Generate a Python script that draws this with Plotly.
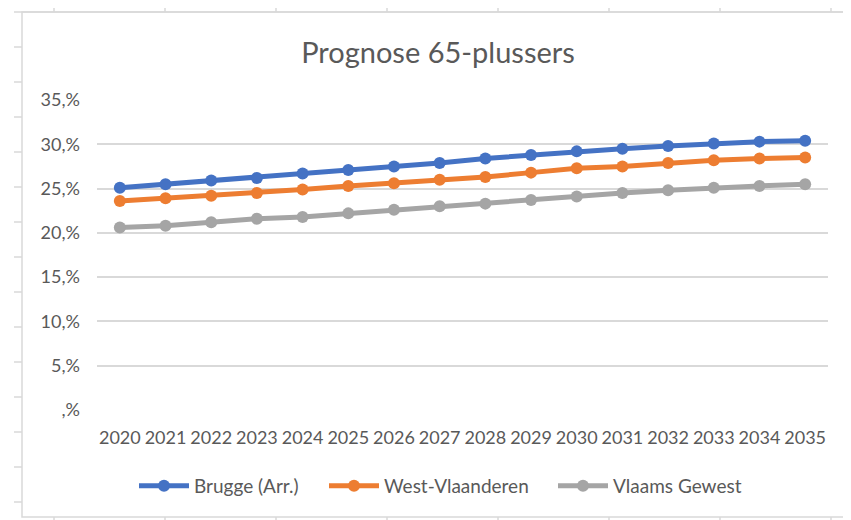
import plotly.graph_objects as go

years = list(range(2020, 2036))
brugge = [25.1, 25.5, 25.9, 26.2, 26.7, 27.1, 27.5, 27.9, 28.4, 28.8, 29.2, 29.5, 29.8, 30.1, 30.3, 30.4]
west_vlaanderen = [23.6, 23.9, 24.2, 24.5, 24.9, 25.3, 25.6, 26.0, 26.3, 26.8, 27.3, 27.5, 27.9, 28.2, 28.4, 28.5]
vlaams_gewest = [20.6, 20.8, 21.2, 21.6, 21.8, 22.2, 22.6, 23.0, 23.3, 23.7, 24.1, 24.5, 24.8, 25.1, 25.3, 25.5]
series_names = ["Brugge (Arr.)", "West-Vlaanderen", "Vlaams Gewest"]
series_colors = ["#4472C4", "#ED7D31", "#A5A5A5"]
y_tickvals = [0, 5, 10, 15, 20, 25, 30, 35]
y_ticktext = [",%", "5,%", "10,%", "15,%", "20,%", "25,%", "30,%", "35,%"]

FONT = "Lato"
TXT = "#595959"

legend_ids = ["legend", "legend2", "legend3"]

fig = go.Figure()
for name, vals, col, lg in zip(series_names, [brugge, west_vlaanderen, vlaams_gewest], series_colors, legend_ids):
    fig.add_trace(go.Scatter(
        x=years, y=vals, name=name, mode="lines+markers",
        line=dict(color=col, width=5),
        marker=dict(color=col, size=12),
        legend=lg,
    ))

# page has an 8px body margin; figure is placed at (8, 8)
OFF = 8
W, H = 851 - OFF, 520 - OFF
# plot area in page pixels: x 97..828, y 100..410
L = 97 - OFF
T = 100 - OFF
R = W - (828 - OFF)
B = H - (410 - OFF)
PW, PH = W - L - R, H - T - B

def px(x):  # page pixel -> paper
    return (x - OFF - L) / PW

def py(y):
    return (H - B - (y - OFF)) / PH

shapes = []
border = "#D9D9D9"
shapes.append(dict(type="rect", xref="paper", yref="paper",
                   x0=px(22), x1=px(847), y0=py(517), y1=py(12),
                   line=dict(color=border, width=1.5), layer="below"))
shapes.append(dict(type="line", xref="paper", yref="paper",
                   x0=px(14), x1=px(851), y0=py(12), y1=py(12),
                   line=dict(color=border, width=1.5)))
for cx in [54, 165, 276, 387, 498, 609, 720, 831]:
    shapes.append(dict(type="line", xref="paper", yref="paper",
                       x0=px(cx), x1=px(cx), y0=py(8), y1=py(12),
                       line=dict(color=border, width=1.5)))
    shapes.append(dict(type="line", xref="paper", yref="paper",
                       x0=px(cx), x1=px(cx), y0=py(517), y1=py(520),
                       line=dict(color=border, width=1.5)))
for ry in range(47, 517, 35):
    shapes.append(dict(type="line", xref="paper", yref="paper",
                       x0=px(14), x1=px(22), y0=py(ry), y1=py(ry),
                       line=dict(color=border, width=1.5)))

# legend entry left positions (page pixels)
legend_x = [140, 330, 559]
legend_common = dict(orientation="h", xref="container", xanchor="left",
                     yref="container", y=1 - (486 - OFF) / H, yanchor="middle",
                     font=dict(size=19, color=TXT), itemwidth=50, bgcolor="rgba(0,0,0,0)")
legends = {}
for lg, lx in zip(legend_ids, legend_x):
    legends[lg] = dict(legend_common, x=(lx - OFF - 6) / W)

fig.update_layout(
    width=W, height=H,
    margin=dict(l=L, r=R, t=T, b=B),
    paper_bgcolor="white", plot_bgcolor="white",
    font=dict(family=FONT, color=TXT, size=18),
    title=dict(text="Prognose 65-plussers", x=(438 - OFF) / W, xref="container", xanchor="center",
               y=1 - (53 - OFF) / H, yref="container", yanchor="middle",
               font=dict(family=FONT, size=29, color=TXT)),
    xaxis=dict(range=[2019.5, 2035.5], tickvals=years, ticktext=[str(y) for y in years],
               showgrid=False, zeroline=False, showline=False, ticks="",
               ticklabelstandoff=15, tickfont=dict(size=18, color=TXT)),
    yaxis=dict(range=[0, 35], tickvals=y_tickvals, ticktext=y_ticktext,
               showgrid=True, gridcolor="#D9D9D9", gridwidth=1.5, zeroline=False,
               showline=False, ticks="", ticklabelstandoff=16,
               tickfont=dict(size=18, color=TXT)),
    shapes=shapes,
    showlegend=True,
    **legends,
)

fig.write_html("out.html")
